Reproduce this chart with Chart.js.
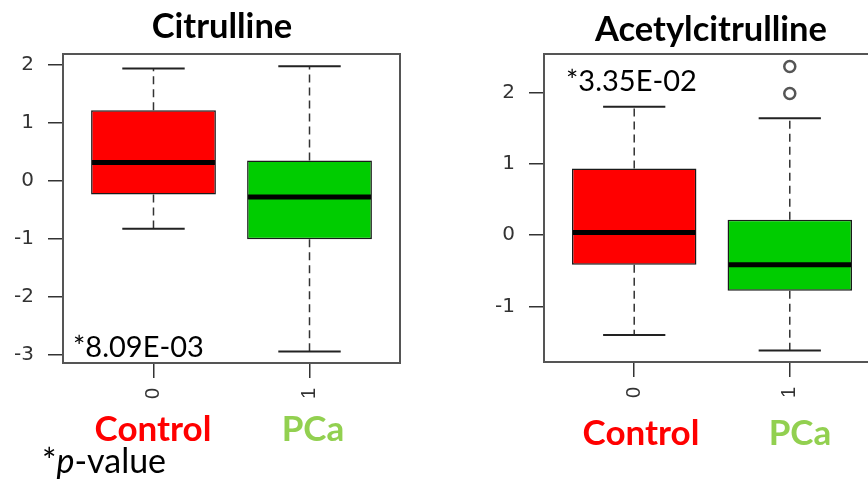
<!DOCTYPE html>
<html><head><meta charset="utf-8">
<script src="https://cdn.jsdelivr.net/npm/chart.js@4.4.0/dist/chart.umd.min.js"></script>
<style>
html,body{margin:0;padding:0;width:868px;height:481px;overflow:hidden;background:#fff;}
body{position:relative;}
.box{position:absolute;top:0;}
.t{position:absolute;white-space:nowrap;font-family:Lato,'Open Sans',sans-serif;line-height:1;}
.title{font-weight:bold;color:#000;transform:translateX(-50%);}
.grp{font-weight:bold;font-size:35px;transform:translateX(-50%);}
.pv{font-size:29px;color:#000;}
</style></head><body>
<div class="box" style="left:0;width:434px;height:481px"><canvas id="c1" width="434" height="481"></canvas></div>
<div class="box" style="left:434px;width:470px;height:481px"><canvas id="c2" width="470" height="481"></canvas></div>

<div class="t title" style="left:222px;top:8px;font-size:34.5px">Citrulline</div>
<div class="t title" style="left:711px;top:11px;font-size:34.5px">Acetylcitrulline</div>
<div class="t pv" style="left:73px;top:331px">*8.09E-03</div>
<div class="t pv" style="left:566px;top:65px">*3.35E-02</div>
<div class="t grp" style="left:153px;top:410px;color:#FF0000">Control</div>
<div class="t grp" style="left:313px;top:410px;color:#92D050">PCa</div>
<div class="t grp" style="left:641px;top:414px;color:#FF0000">Control</div>
<div class="t grp" style="left:800px;top:414px;color:#92D050">PCa</div>
<div class="t" style="left:42px;top:443px;font-size:34px;color:#000">*<i>p</i>-value</div>

<script>
// ---- data ----
const categories = ['0', '1'];
const groupNames = ['Control', 'PCa'];
const boxColors = ['#FF0000', '#00CC00'];

// Citrulline
const citWhiskerLow = [-0.83, -2.94];
const citQ1 = [-0.24, -1.01];
const citMedian = [0.31, -0.28];
const citQ3 = [1.21, 0.345];
const citWhiskerHigh = [1.93, 1.97];
const citOutlierGroup = [];
const citOutlierValue = [];
const citYTicks = [-3, -2, -1, 0, 1, 2];

// Acetylcitrulline
const acWhiskerLow = [-1.40, -1.62];
const acQ1 = [-0.417, -0.782];
const acMedian = [0.037, -0.417];
const acQ3 = [0.935, 0.215];
const acWhiskerHigh = [1.80, 1.638];
const acOutlierGroup = [2, 2];
const acOutlierValue = [2.364, 1.985];
const acYTicks = [-1, 0, 1, 2];

const BOXWEX = 0.8;

function makeChart(id, st, layout) {
  const xs = categories.map((_, i) => i + 1);
  const boxPlugin = {
    id: 'boxWhisker' + id,
    afterDatasetsDraw(chart) {
      const ctx = chart.ctx, xS = chart.scales.x, yS = chart.scales.y, a = chart.chartArea;
      ctx.save();
      // frame
      ctx.strokeStyle = '#555'; ctx.lineWidth = 2;
      ctx.strokeRect(a.left, a.top, a.right - a.left, a.bottom - a.top);
      xs.forEach((x, i) => {
        const cx = xS.getPixelForValue(x);
        // whiskers (dashed)
        ctx.strokeStyle = '#333'; ctx.lineWidth = 1.5; ctx.setLineDash([8, 5]);
        ctx.beginPath();
        ctx.moveTo(cx, yS.getPixelForValue(st.q3[i])); ctx.lineTo(cx, yS.getPixelForValue(st.hi[i]));
        ctx.moveTo(cx, yS.getPixelForValue(st.q1[i])); ctx.lineTo(cx, yS.getPixelForValue(st.lo[i]));
        ctx.stroke();
        ctx.setLineDash([]);
        // caps
        const l = xS.getPixelForValue(x - BOXWEX / 4), r = xS.getPixelForValue(x + BOXWEX / 4);
        ctx.strokeStyle = '#222'; ctx.lineWidth = 2;
        ctx.beginPath();
        ctx.moveTo(l, yS.getPixelForValue(st.hi[i])); ctx.lineTo(r, yS.getPixelForValue(st.hi[i]));
        ctx.moveTo(l, yS.getPixelForValue(st.lo[i])); ctx.lineTo(r, yS.getPixelForValue(st.lo[i]));
        ctx.stroke();
        // median
        const ml = xS.getPixelForValue(x - BOXWEX / 2), mr = xS.getPixelForValue(x + BOXWEX / 2);
        ctx.strokeStyle = '#000'; ctx.lineWidth = 5;
        ctx.beginPath();
        ctx.moveTo(ml + 1, yS.getPixelForValue(st.med[i])); ctx.lineTo(mr - 1, yS.getPixelForValue(st.med[i]));
        ctx.stroke();
      });
      ctx.restore();
    }
  };
  return new Chart(document.getElementById(id), {
    type: 'bar',
    data: {
      datasets: [
        {
          type: 'bar',
          data: xs.map((x, i) => ({ x: x, y: [st.q1[i], st.q3[i]] })),
          backgroundColor: boxColors,
          borderColor: '#1a1a1a',
          borderWidth: 1.5,
          borderSkipped: false,
          barPercentage: BOXWEX,
          categoryPercentage: 1,
          order: 2
        },
        {
          type: 'scatter',
          data: st.outG.map((g, i) => ({ x: g, y: st.outV[i] })),
          pointRadius: 5.5,
          pointBorderWidth: 2.5,
          borderColor: '#555',
          backgroundColor: '#fff',
          order: 1
        }
      ]
    },
    options: {
      responsive: false,
      animation: false,
      devicePixelRatio: 1,
      layout: { padding: layout.padding },
      plugins: { legend: { display: false }, tooltip: { enabled: false }, title: { display: false } },
      scales: {
        x: {
          type: 'linear',
          min: 0.42, max: 2.58,
          offset: false,
          afterBuildTicks: s => { s.ticks = xs.map(v => ({ value: v })); },
          afterFit: s => { s.height = layout.xh; },
          ticks: {
            callback: v => categories[v - 1],
            minRotation: 90, maxRotation: 90, autoSkip: false,
            font: { family: 'Liberation Sans', size: 20 }, color: '#333', padding: 10
          },
          grid: { offset: false, drawOnChartArea: false, drawTicks: true, tickLength: 15, color: '#333', lineWidth: 1.5 },
          border: { display: false }
        },
        y: {
          type: 'linear',
          min: st.ymin, max: st.ymax,
          afterBuildTicks: s => { s.ticks = st.yticks.map(v => ({ value: v })); },
          afterFit: s => { s.width = layout.yw; },
          ticks: {
            callback: v => String(v),
            font: { family: 'DejaVu Sans', size: 20 }, color: '#333', padding: 14
          },
          grid: { drawOnChartArea: false, drawTicks: true, tickLength: 15, color: '#333', lineWidth: 1.5 },
          border: { display: false }
        }
      }
    },
    plugins: [boxPlugin]
  });
}

makeChart('c1', {
  lo: citWhiskerLow, q1: citQ1, med: citMedian, q3: citQ3, hi: citWhiskerHigh,
  outG: citOutlierGroup, outV: citOutlierValue, yticks: citYTicks, ymin: -3.14, ymax: 2.18
}, { padding: { top: 54, right: 34, left: 0, bottom: 0 }, yw: 63, xh: 118 });

makeChart('c2', {
  lo: acWhiskerLow, q1: acQ1, med: acMedian, q3: acQ3, hi: acWhiskerHigh,
  outG: acOutlierGroup, outV: acOutlierValue, yticks: acYTicks, ymin: -1.78, ymax: 2.54
}, { padding: { top: 54, right: 24, left: 0, bottom: 0 }, yw: 110, xh: 119 });
</script>
</body></html>
